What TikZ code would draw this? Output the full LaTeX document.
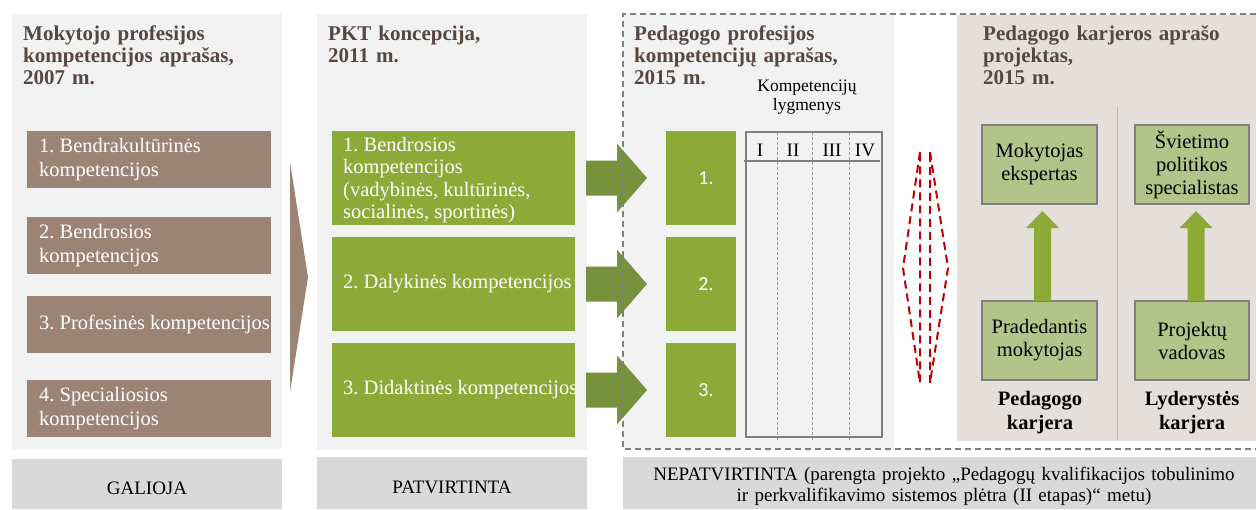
\documentclass[tikz,border=0pt]{standalone}
\usepackage{fontspec}
\setmainfont{Liberation Serif}
\newfontfamily\sansf{Carlito}
\usetikzlibrary{calc}
\frenchspacing
\definecolor{panelbg}{HTML}{F2F2F2}
\definecolor{statusbg}{HTML}{D9D9D9}
\definecolor{karjbg}{HTML}{E5DFDC}
\definecolor{titlec}{HTML}{574741}
\definecolor{brownbox}{HTML}{9B8476}
\definecolor{greenbox}{HTML}{8CAA37}
\definecolor{olivearr}{HTML}{76923C}
\definecolor{lightgreen}{HTML}{B2C48A}
\definecolor{bordergray}{HTML}{7F7F7F}
\definecolor{dashgray}{HTML}{9A9A9A}
\definecolor{redd}{HTML}{C00000}
\definecolor{divc}{HTML}{C4AFA2}
\newcommand\myRArrow[2]{%
  \fill[olivearr] ($(#1)+(0,-17.5)$) -- ($(#2)+(-30,-17.5)$) -- ($(#2)+(-30,-34.5)$) -- (#2)
    -- ($(#2)+(-30,34.5)$) -- ($(#2)+(-30,17.5)$) -- ($(#1)+(0,17.5)$) -- cycle;}
\newcommand\myUArrow[2]{%
  \fill[greenbox] ($(#1)+(-8.5,0)$) -- ($(#2)+(-8.5,17)$) -- ($(#2)+(-16.5,17)$) -- (#2)
    -- ($(#2)+(16.5,17)$) -- ($(#2)+(8.5,17)$) -- ($(#1)+(8.5,0)$) -- cycle;}
\begin{document}
\begin{tikzpicture}[x=1pt,y=-1pt,
  titlet/.style={anchor=base west, align=left, text width=300pt, inner sep=0pt, text=titlec,
    font=\bfseries\fontsize{21}{22}\selectfont},
  bodyt/.style={anchor=west, align=left, inner sep=0pt, text=white, font=\fontsize{20.5}{24}\selectfont},
  brownb/.style={anchor=north west, inner sep=0pt, outer sep=0pt, fill=brownbox, minimum width=244pt, minimum height=57pt},
  greenb/.style={anchor=north west, inner sep=0pt, outer sep=0pt, fill=greenbox, minimum width=243pt, minimum height=94pt},
  smallb/.style={anchor=north west, inner sep=0pt, outer sep=0pt, fill=greenbox, minimum width=70pt, minimum height=94pt},
  numt/.style={inner sep=0pt, text=white, font=\sansf\fontsize{20}{22}\selectfont},
  careerb/.style={anchor=north west, inner sep=0pt, outer sep=0pt, fill=lightgreen, draw=bordergray, line width=1.5pt,
    minimum height=79pt, align=center, font=\fontsize{20.5}{23}\selectfont},
  statust/.style={anchor=base, align=center, inner sep=0pt, text=black, font=\fontsize{19}{21}\selectfont},
  careert/.style={anchor=base, align=center, text width=140pt, inner sep=0pt, font=\bfseries\fontsize{20.5}{24}\selectfont},
  headt/.style={anchor=base, inner sep=0pt, font=\fontsize{19}{20}\selectfont},
  biglinedash/.style={draw=bordergray, line width=1.5pt, dash pattern=on 6pt off 4pt},
  coldash/.style={draw=dashgray, line width=0.8pt, dash pattern=on 3pt off 2pt},
  reddash/.style={draw=redd, line width=2pt, dash pattern=on 8pt off 5pt}
]
\useasboundingbox (0,0) rectangle (1256,509);
% backgrounds
\fill[panelbg] (12,14) rectangle (282,449);
\fill[panelbg] (317,14) rectangle (587,450);
\fill[panelbg] (623,14) rectangle (894,449);
\fill[karjbg] (957,15) rectangle (1256,441);
\fill[statusbg] (12,459) rectangle (282,509);
\fill[statusbg] (317,457) rectangle (587,509);
\fill[statusbg] (623,457) rectangle (1256,509);

% titles
\node[titlet] (t1) at (23,40) {Mokytojo profesijos\\kompetencijos aprašas,\\2007 m.};
\node[titlet] (t2) at (328,40) {PKT koncepcija,\\2011 m.};
\node[titlet] (t3) at (634,40) {Pedagogo profesijos\\kompetencijų aprašas,\\2015 m.};
\node[titlet] (t4) at (983,40) {Pedagogo karjeros aprašo\\projektas,\\2015 m.};

% column 1
\node[brownb] (b1) at (27,131) {};
\node[brownb] (b2) at (27,217) {};
\node[brownb] (b3) at (27,296) {};
\node[brownb] (b4) at (27,380) {};
\node[bodyt] (b1t) at ($(b1.west)+(12,0)$) {1. Bendrakultūrinės\\kompetencijos};
\node[bodyt] (b2t) at ($(b2.west)+(12,0)$) {2. Bendrosios\\kompetencijos};
\node[bodyt] (b3t) at ($(b3.west)+(12,0)$) {3. Profesinės kompetencijos};
\node[bodyt] (b4t) at ($(b4.west)+(12,0)$) {4. Specialiosios\\kompetencijos};
\fill[brownbox] (290,162) -- (308,277) -- (290,392) -- cycle;

% column 2
\node[greenb] (g1) at (332,131) {};
\node[greenb] (g2) at (332,237) {};
\node[greenb] (g3) at (332,343) {};
\node[bodyt, font=\fontsize{20.5}{22.5}\selectfont] (g1t) at ($(g1.west)+(11,2)$) {1. Bendrosios\\kompetencijos\\(vadybinės, kultūrinės,\\socialinės, sportinės)};
\node[bodyt] (g2t) at ($(g2.west)+(11,0)$) {2. Dalykinės kompetencijos};
\node[bodyt] (g3t) at ($(g3.west)+(11,0)$) {3. Didaktinės kompetencijos};

% column 3
\node[smallb] (n1) at (666,131) {};
\node[smallb] (n2) at (666,237) {};
\node[smallb] (n3) at (666,343) {};
\node[numt] (n1t) at ($(n1.center)+(5,0)$) {1.};
\node[numt] (n2t) at ($(n2.center)+(5,0)$) {2.};
\node[numt] (n3t) at ($(n3.center)+(5,0)$) {3.};

\coordinate (a1s) at ($(g1.east)+(11,0)$);
\coordinate (a1e) at ($(n1.west)+(-19,0)$);
\coordinate (a2s) at ($(g2.east)+(11,0)$);
\coordinate (a2e) at ($(n2.west)+(-19,0)$);
\coordinate (a3s) at ($(g3.east)+(11,0)$);
\coordinate (a3e) at ($(n3.west)+(-19,0)$);
\myRArrow{a1s}{a1e}
\myRArrow{a2s}{a2e}
\myRArrow{a3s}{a3e}

% table
\node[anchor=base, inner sep=0pt, align=center, font=\fontsize{17.5}{19}\selectfont] (kl) at (807,110) {Kompetencijų\\lygmenys};
\draw[coldash] (777,132) -- (777,440);
\draw[coldash] (812,132) -- (812,440);
\draw[coldash] (849,132) -- (849,440);
\draw[bordergray, line width=1.5pt] (746,132) rectangle (882,437);
\draw[bordergray, line width=2pt] (744,161) -- (880,161);
\node[headt] (h1) at (760,156) {I};
\node[headt] (h2) at (793,156) {II};
\node[headt] (h3) at (832,156) {III};
\node[headt] (h4) at (865,156) {IV};

% red lens
\draw[reddash] (920,152) -- (903,268) -- (920,383) -- cycle;
\draw[reddash] (930,152) -- (948,268) -- (930,383) -- cycle;

% column 4
\draw[divc, line width=1pt] (1117,107) -- (1117,440);
\node[careerb, minimum width=115pt] (me) at (982,125) {Mokytojas\\ekspertas};
\node[careerb, minimum width=114pt] (sp) at (1135,125) {Švietimo\\politikos\\specialistas};
\node[careerb, minimum width=115pt] (pm) at (982,301) {Pradedantis\\mokytojas};
\node[careerb, minimum width=114pt] (pv) at (1135,301) {Projektų\\vadovas};
\coordinate (u1s) at ($(pm.north)+(3,0)$);
\coordinate (u1e) at ($(me.south)+(3,7)$);
\coordinate (u2s) at ($(pv.north)+(4,0)$);
\coordinate (u2e) at ($(sp.south)+(4,7)$);
\myUArrow{u1s}{u1e}
\myUArrow{u2s}{u2e}
\node[careert] (c1) at (1040,405) {Pedagogo\\karjera};
\node[careert] (c2) at (1192,405) {Lyderystės\\karjera};

% dashed frame
\draw[biglinedash] (1256,14) -- (623,14) -- (623,449) -- (1256,449);

% status texts
\node[statust] (s1) at (147,494) {GALIOJA};
\node[statust] (s2) at (452,493) {PATVIRTINTA};
\node[statust, anchor=base, text width=640pt] (s3) at (944,480) {NEPATVIRTINTA (parengta projekto „Pedagogų kvalifikacijos tobulinimo\\ir perkvalifikavimo sistemos plėtra (II etapas)“ metu)};
\end{tikzpicture}
\end{document}
